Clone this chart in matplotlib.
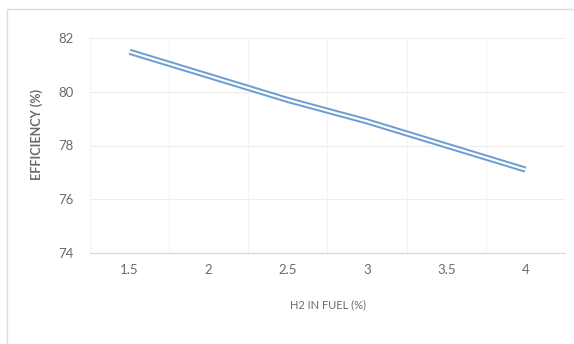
import matplotlib
matplotlib.use('Agg')
import matplotlib.pyplot as plt
import numpy as np

# Data
h2_labels = ['1.5', '2', '2.5', '3', '3.5', '4']
efficiency = [81.5, 80.6, 79.7, 78.9, 78.0, 77.1]
y_ticks = [74, 76, 78, 80, 82]

FONT = ['Lato', 'DejaVu Sans']
TICK_COLOR = '#6b6b6b'

fig = plt.figure(figsize=(5.74, 3.44), dpi=100, facecolor='white')

# chart border
fig.patches.append(plt.Rectangle(
    (7 / 574, -0.05), 1.1, 1 - 9 / 344 + 0.05, transform=fig.transFigure,
    fill=False, edgecolor='#dcdcdc', linewidth=1.0, zorder=0))

ax = fig.add_axes([90 / 574, 1 - 252.6 / 344, 475 / 574, (252.6 - 38.4) / 344])
x = np.arange(len(h2_labels))

# compound (double) line: wide blue with white core
ax.plot(x, efficiency, color='#6a9dd0', linewidth=4.4, solid_capstyle='butt', zorder=3)
ax.plot(x, efficiency, color='white', linewidth=1.6, solid_capstyle='butt', zorder=4)

ax.set_xlim(-0.5, len(h2_labels) - 0.5)
ax.set_ylim(74, 82)
ax.set_yticks(y_ticks)
ax.set_xticks(x)
ax.set_xticklabels(h2_labels)
ax.set_xticks(np.arange(-0.5, len(h2_labels)), minor=True)

ax.grid(axis='y', which='major', color='#ededed', linewidth=0.8)
ax.grid(axis='x', which='minor', color='#f3f3f3', linewidth=0.8)
ax.set_axisbelow(True)

for s in ['top', 'right', 'left']:
    ax.spines[s].set_visible(False)
ax.spines['bottom'].set_color('#d9d9d9')
ax.spines['bottom'].set_linewidth(0.9)

ax.tick_params(axis='both', which='both', length=0)
ax.tick_params(axis='x', pad=8)
ax.tick_params(axis='y', pad=12)
for lab in ax.get_xticklabels() + ax.get_yticklabels():
    lab.set_family(FONT)
    lab.set_fontsize(9.5)
    lab.set_color(TICK_COLOR)

ax.set_ylabel('EFFICIENCY (%)', family=FONT, fontsize=9, color=TICK_COLOR,
              fontweight='bold', labelpad=7)
ax.yaxis.set_label_coords(-0.098, 0.55)
ax.set_xlabel('H2 IN FUEL (%)', family=FONT, fontsize=8, color=TICK_COLOR,
              labelpad=17)

fig.savefig('out.png', dpi=100, facecolor='white')
